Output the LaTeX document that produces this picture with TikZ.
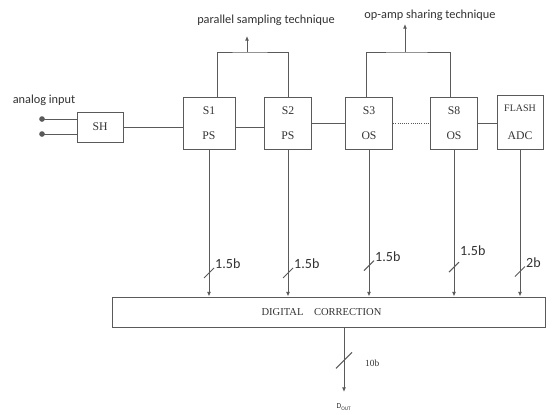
\documentclass[tikz,border=0pt]{standalone}
\usepackage{fontspec}
\setmainfont{Liberation Serif}
\newfontfamily\calfont{Carlito}
\usepackage{tikz}
\usetikzlibrary{positioning, arrows.meta}
\definecolor{linegray}{RGB}{90,90,90}
\definecolor{txtgray}{RGB}{50,50,50}

\begin{document}
\begin{tikzpicture}[x=0.03cm, y=-0.03cm,
    >={Latex[length=4pt,width=3.4pt]},
    wire/.style={draw=linegray, line width=0.85pt},
    block/.style={rectangle, draw=linegray, line width=0.85pt, align=center,
        text=txtgray, font=\fontsize{10}{21}\selectfont,
        minimum width=1.42cm, minimum height=1.56cm},
    lbl/.style={text=txtgray, inner sep=0pt, font=\calfont\fontsize{10.5}{12}\selectfont},
    bits/.style={text=txtgray, inner sep=0pt, font=\calfont\fontsize{12}{13}\selectfont},
]
  \useasboundingbox (0,0) rectangle (552,415);
  \coordinate (in1) at (42,119);
  \coordinate (in2) at (42,134);
  \coordinate (psmid) at (247,52);
  \coordinate (pstip) at (247,36);
  \coordinate (osmid) at (405,52);
  \coordinate (ostip) at (405,24);
  \coordinate (dout) at (344,392);

  % converter stages
  \node[block, minimum width=1.38cm, minimum height=0.9cm] (sh) at (100,127) {SH};
  \node[block, minimum width=1.56cm] (s1) at (209,123) {S1\\PS};
  \node[block] (s2) at (288,123) {S2\\PS};
  \node[block] (s3) at (369,123) {S3\\OS};
  \node[block] (s8) at (454,123) {S8\\OS};
  \node[block, minimum width=1.38cm, minimum height=1.62cm,
        font=\fontsize{10}{24}\selectfont] (flash) at (520,122) {{\fontsize{8.5}{10}\selectfont FLASH}\\ADC};
  \node[block, minimum width=12.96cm, minimum height=0.9cm,
        font=\fontsize{9}{10}\selectfont] (dc) at (329,312) {DIGITAL\quad CORRECTION\hspace*{0.45cm}};

  \node[lbl] (ain) at (44,100) {analog input};
  \node[lbl] (pst) at (266,20) {parallel sampling technique};
  \node[lbl] (ost) at (430,15) {op-amp sharing technique};

  % input and chain
  \fill[linegray] (in1) circle (2.4pt);
  \fill[linegray] (in2) circle (2.4pt);
  \draw[wire] (in1) -- (in1 -| sh.west);
  \draw[wire] (in2) -- (in2 -| sh.west);
  \draw[wire] (sh.east) -- (sh.east -| s1.west);
  \draw[wire] (s1.east |- sh.east) -- (s2.west |- sh.east);
  \draw[wire] (s2) -- (s3);
  \draw[wire, densely dotted] (s3) -- (s8);
  \draw[wire] (s8.east) -- (s8.east -| flash.west);

  % techniques
  \draw[wire] ([xshift=0.24cm]s1.north) |- (psmid) -| (s2.north);
  \draw[wire, ->] (psmid) -- (pstip);
  \draw[wire] ([xshift=-0.09cm]s3.north) |- (osmid) -| ([xshift=-0.12cm]s8.north);
  \draw[wire, ->] (osmid) -- (ostip);

  % buses to correction
  \foreach \b/\w/\p/\dy in {s1/1.5b/0.84/0, s2/1.5b/0.84/0, s3/1.5b/0.79/0, s8/1.5b/0.80/-7, flash/2b/0.83/0} {
    \draw[wire, ->] (\b.south) -- coordinate[pos=\p] (m\b) (\b.south |- dc.north);
    \draw[wire] ([shift={(-5,5)}]m\b) -- ([shift={(5,-5)}]m\b);
    \node[bits, anchor=south west] (w\b) at ([shift={(6,-4+\dy)}]m\b) {\w};
  }

  % output
  \draw[wire, ->] (dc.south -| dout) -- coordinate[pos=0.51] (mout) (dout);
  \draw[wire] ([shift={(-8,8)}]mout) -- ([shift={(8,-8)}]mout);
  \node[text=txtgray, inner sep=0pt, font=\fontsize{8}{9}\selectfont, anchor=west] (wout) at (365,363) {10b};
  \node[text=txtgray, inner sep=0pt, font=\calfont\fontsize{6.5}{7}\selectfont] (dlbl) at (344,407) {D\textsubscript{OUT}};
\end{tikzpicture}
\end{document}
